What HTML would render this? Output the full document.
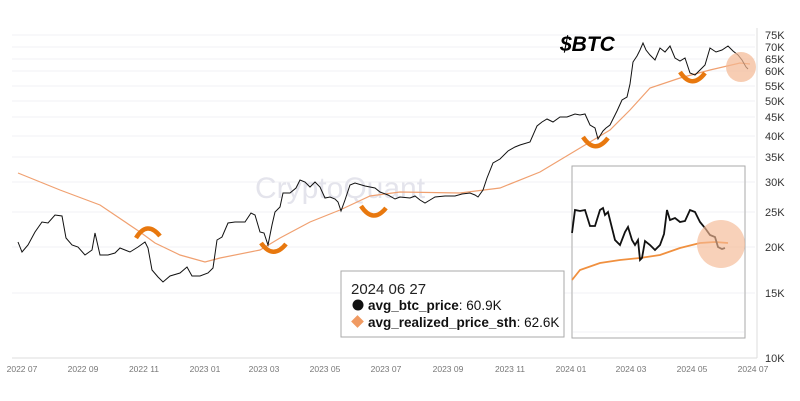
<!DOCTYPE html>
<html><head><meta charset="utf-8"><style>
html,body{margin:0;padding:0;background:#fff;}
svg{display:block;font-family:"Liberation Sans",sans-serif;}
</style></head><body>
<svg width="800" height="401" viewBox="0 0 800 401">
<rect width="800" height="401" fill="#fff"/>
<g stroke="#f2f2f4" stroke-width="1">
<line x1="12" x2="755" y1="35" y2="35"/><line x1="12" x2="755" y1="47" y2="47"/><line x1="12" x2="755" y1="59" y2="59"/><line x1="12" x2="755" y1="71" y2="71"/><line x1="12" x2="755" y1="86" y2="86"/><line x1="12" x2="755" y1="101" y2="101"/><line x1="12" x2="755" y1="117" y2="117"/><line x1="12" x2="755" y1="136" y2="136"/><line x1="12" x2="755" y1="157" y2="157"/><line x1="12" x2="755" y1="182" y2="182"/><line x1="12" x2="755" y1="212" y2="212"/><line x1="12" x2="755" y1="247" y2="247"/><line x1="12" x2="755" y1="293" y2="293"/>
</g>
<line x1="757" y1="28" x2="757" y2="358" stroke="#ddd"/>
<line x1="12" y1="358" x2="757" y2="358" stroke="#ddd"/>
<text x="340" y="198" font-size="30" fill="#e4e4ec" text-anchor="middle">CryptoQuant</text>
<g font-size="11" fill="#333">
<text x="765" y="39">75K</text><text x="765" y="51">70K</text><text x="765" y="63">65K</text><text x="765" y="75">60K</text><text x="765" y="90">55K</text><text x="765" y="105">50K</text><text x="765" y="121">45K</text><text x="765" y="140">40K</text><text x="765" y="161">35K</text><text x="765" y="186">30K</text><text x="765" y="216">25K</text><text x="765" y="251">20K</text><text x="765" y="297">15K</text><text x="765" y="362">10K</text>
</g>
<g font-size="8.5" fill="#777" text-anchor="middle">
<text x="22" y="372">2022 07</text><text x="83" y="372">2022 09</text><text x="144" y="372">2022 11</text><text x="205" y="372">2023 01</text><text x="264" y="372">2023 03</text><text x="325" y="372">2023 05</text><text x="386" y="372">2023 07</text><text x="448" y="372">2023 09</text><text x="510" y="372">2023 11</text><text x="571" y="372">2024 01</text><text x="631" y="372">2024 03</text><text x="692" y="372">2024 05</text><text x="753" y="372">2024 07</text>
</g>
<polyline fill="none" stroke="#f0a070" stroke-width="1.2" points="18,173 60,190 100,205 140,232 155,243 180,255 205,262 220,258 260,250 280,238 310,222 340,210 370,196 400,192 460,193 500,188 540,172 580,148 610,130 630,110 650,88 680,78 710,70 740,63 750,64"/>
<polyline fill="none" stroke="#111" stroke-width="1" points="18,242 22,252 28,245 35,232 42,222 48,223 55,215 62,216 66,238 72,245 78,247 85,255 92,250 95,233 100,255 108,255 115,253 120,248 130,252 138,247 145,242 148,248 152,270 158,277 163,282 170,276 180,273 187,267 192,276 200,276 208,273 213,268 217,240 222,237 228,223 235,222 245,222 251,213 255,215 260,232 264,233 268,245 272,225 275,212 280,207 283,193 290,193 296,188 300,180 305,182 310,187 315,182 320,187 325,198 330,197 335,199 338,202 341,211 345,200 350,185 355,183 365,186 375,188 380,192 388,195 395,199 400,197 410,198 415,196 420,200 425,203 430,200 435,197 445,196 455,196 462,194 470,193 475,195 478,197 483,190 487,178 493,163 500,159 508,151 515,147 520,145 530,142 537,126 542,122 547,119 553,122 560,117 567,117 575,114 580,115 585,114 590,125 595,128 598,139 603,131 606,128 610,125 617,111 622,100 627,97 630,84 633,62 637,56 640,50 643,43 646,50 650,55 655,60 660,48 665,52 670,46 675,58 680,61 685,58 690,73 695,75 700,70 705,65 710,48 716,52 722,50 728,46 733,51 738,55 742,60 746,67 748,69"/>
<g fill="none" stroke="#e8780e" stroke-width="4.5" stroke-linecap="butt">
<path d="M136,238 Q147,220 160,236"/>
<path d="M261,243 Q273,260 286,244"/>
<path d="M361,206 Q373,224 386,208"/>
<path d="M583,137 Q595,155 608,138"/>
<path d="M680,72 Q692,90 705,73"/>
</g>
<circle cx="741" cy="67" r="15" fill="#f4b893" opacity="0.7"/>
<text x="560" y="51" font-size="21" font-weight="bold" font-style="italic" fill="#000">$BTC</text>
<rect x="572" y="166" width="173" height="172" fill="#fff" stroke="#aaa" stroke-width="1"/>
<g stroke="#f2f2f4"><line x1="573" x2="744" y1="182" y2="182"/><line x1="573" x2="744" y1="212" y2="212"/><line x1="573" x2="744" y1="247" y2="247"/><line x1="573" x2="744" y1="293" y2="293"/><line x1="573" x2="744" y1="332" y2="332"/></g>
<polyline fill="none" stroke="#f0903f" stroke-width="1.8" points="572,280 580,270 600,263 620,260 640,258 660,255 680,248 700,243 715,242 728,243"/>
<polyline fill="none" stroke="#111" stroke-width="1.8" points="572,233 575,210 580,211 585,210 590,226 595,226 600,210 603,208 605,215 608,212 612,228 615,240 620,245 625,232 628,227 632,240 635,245 638,240 640,260 642,258 645,241 650,245 655,250 660,245 664,234 667,210 670,220 675,218 680,222 685,221 690,210 695,212 700,222 705,228 710,235 715,237 718,247 722,249 725,248"/>
<circle cx="721" cy="244" r="24" fill="#f4b893" opacity="0.65"/>
<rect x="341" y="271" width="223" height="66" fill="#fff" stroke="#aaa" stroke-width="1"/>
<text x="351" y="294" font-size="15" fill="#222">2024 06 27</text>
<circle cx="358" cy="305" r="5.5" fill="#111"/>
<text x="368" y="310" font-size="13.5" fill="#111"><tspan font-weight="bold">avg_btc_price</tspan>: 60.9K</text>
<rect x="353" y="317" width="9" height="9" fill="#f09a62" transform="rotate(45 357.5 321.5)"/>
<text x="368" y="327" font-size="13.5" fill="#111"><tspan font-weight="bold">avg_realized_price_sth</tspan>: 62.6K</text>
</svg>
</body></html>
